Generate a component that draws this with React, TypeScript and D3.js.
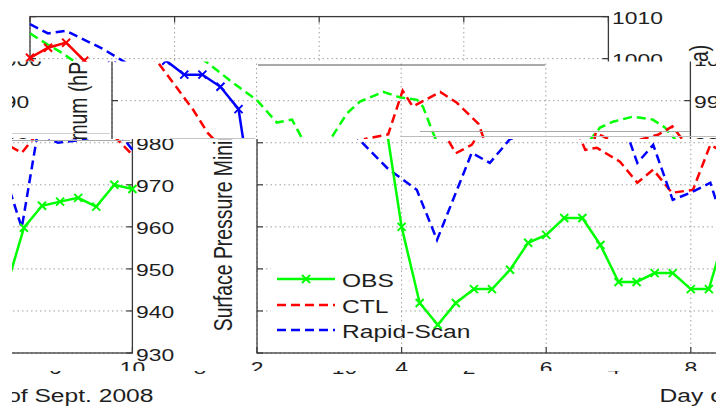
import React from 'react';
import * as d3 from 'd3';

// ---- data ----
const obsDays = [2, 2.25, 2.5, 2.75, 3, 3.25, 3.5, 3.75, 4, 4.25, 4.5, 4.75, 5, 5.25, 5.5, 5.75, 6, 6.25, 6.5, 6.75, 7, 7.25, 7.5, 7.75, 8, 8.25, 8.5, 8.75, 9, 9.25, 9.5, 9.75, 10];
const obsHPa = [1000.2, 1002.6, 1003.8, 999.5, 996.2, 996.2, 993.3, 988.0, 960.0, 941.9, 936.7, 941.9, 945.2, 945.2, 949.8, 956.2, 958.1, 962.1, 962.1, 955.7, 946.9, 946.9, 949.0, 949.0, 945.2, 945.2, 959.8, 965.0, 966.0, 966.9, 964.8, 970.0, 969.0];

const ctlDays = [2.0, 2.25, 2.5, 3.0, 3.3, 3.67, 4.0, 4.28, 4.49, 4.63, 4.75, 4.97, 5.08, 5.25, 5.43, 5.75, 5.98, 6.22, 6.3, 6.43, 6.54, 6.7, 7.02, 7.26, 7.48, 7.74, 8.03, 8.27, 8.47, 8.75, 8.93, 9.2, 9.48, 9.65, 9.7, 10.0];
const ctlHPa = [1008.2, 1006.0, 1006.6, 1002.4, 999.3, 994.3, 990.2, 984.8, 985.5, 981.0, 977.5, 979.5, 982.4, 987.0, 989.8, 992.1, 990.8, 990.2, 988.6, 982.8, 978.3, 978.8, 975.5, 970.5, 973.6, 968.1, 968.8, 979.5, 977.6, 983.6, 985.0, 986.2, 985.5, 983.6, 982.4, 977.1];

const rsDays = [2.0, 2.25, 2.44, 2.64, 2.9, 3.12, 3.33, 3.8, 4.21, 4.49, 4.97, 5.22, 5.5, 5.82, 6.02, 6.16, 6.54, 6.77, 7.07, 7.26, 7.48, 7.75, 8.02, 8.27, 8.47, 8.69, 8.97, 9.3, 9.55, 9.75, 10.0];
const rsHPa = [1006.0, 1003.3, 1001.4, 999.0, 993.0, 987.9, 982.2, 974.0, 968.8, 956.9, 977.6, 975.2, 980.9, 982.0, 992.4, 988.6, 992.1, 989.5, 984.5, 975.2, 979.5, 966.4, 968.3, 970.5, 959.8, 982.4, 980.0, 980.7, 981.9, 983.9, 978.3];

const xTicks = [2, 4, 6, 8, 10];
const yTicks = [930, 940, 950, 960, 970, 980, 990, 1000, 1010];
const legendLabels = ['OBS', 'CTL', 'Rapid-Scan'];
const xTitle = 'Day of Sept. 2008';
const yTitle = 'Surface Pressure Minimum (hPa)';

// ---- styling / layout ----
const SX = 1.33; // horizontal stretch of the picture
const FONT = "'Liberation Sans', Arial, Helvetica, sans-serif";
const TXT = '#1e1e1e';
const P = 703;      // roll period of the picture
const X0 = 12;      // blank strip at the left
const ORIG0 = 254;  // left end of the unrolled picture

type Colors = { obs: string; ctl: string; rs: string };

function Txt(props: { x: number; y: number; size: number; anchor?: string; rotate?: boolean; children: any }) {
  const { x, y, size, anchor = 'start', rotate = false, children } = props;
  const t = rotate
    ? `translate(${x},${y}) scale(${SX},1) rotate(-90)`
    : `translate(${x},${y}) scale(${SX},1)`;
  return (
    <text transform={t} fontSize={size} textAnchor={anchor as any} fontFamily={FONT} fill={TXT}>
      {children}
    </text>
  );
}

function Chart({ c }: { c: Colors }) {
  const x = d3.scaleLinear().domain([2, 10]).range([257, 835.4]);
  const y = d3.scaleLinear().domain([930, 1010]).range([353, 16.6]);
  const line = d3.line<[number, number]>().x((d) => x(d[0])).y((d) => y(d[1]));
  const obs: [number, number][] = obsDays.map((d, i) => [d, obsHPa[i]]);
  const ctl: [number, number][] = ctlDays.map((d, i) => [d, ctlHPa[i]]);
  const rs: [number, number][] = rsDays.map((d, i) => [d, rsHPa[i]]);
  const [x0, x1] = x.range();
  const [yb, yt] = y.range();
  const mk = (cx: number, cy: number, col: string, k: string) => (
    <path key={k} d={`M${cx - 4},${cy - 4}L${cx + 4},${cy + 4}M${cx - 4},${cy + 4}L${cx + 4},${cy - 4}`} stroke={col} strokeWidth={2} fill="none" />
  );
  const legCols = [c.obs, c.ctl, c.rs];
  const legY = [279, 305, 330];
  return (
    <g>
      {yTicks.map((v) => (
        <line key={'gy' + v} x1={x0} x2={x1} y1={y(v)} y2={y(v)} stroke="#a0a0a0" strokeWidth={1} strokeDasharray="1.5 3" />
      ))}
      {xTicks.map((v) => (
        <line key={'gx' + v} x1={x(v)} x2={x(v)} y1={yb} y2={yt} stroke="#a0a0a0" strokeWidth={1} strokeDasharray="1.5 3" />
      ))}
      <rect x={271} y={262} width={127} height={84} fill="#fff" />
      <rect x={x0} y={yt} width={x1 - x0} height={yb - yt} fill="none" stroke="#3a3a3a" strokeWidth={1.3} />
      {yTicks.map((v) => (
        <g key={'ty' + v}>
          <line x1={x0} x2={x0 + 6} y1={y(v)} y2={y(v)} stroke="#3a3a3a" strokeWidth={1.2} />
          <line x1={x1} x2={x1 - 6} y1={y(v)} y2={y(v)} stroke="#3a3a3a" strokeWidth={1.2} />
        </g>
      ))}
      {xTicks.map((v) => (
        <g key={'tx' + v}>
          <line x1={x(v)} x2={x(v)} y1={yb} y2={yb - 6} stroke="#3a3a3a" strokeWidth={1.2} />
          <line x1={x(v)} x2={x(v)} y1={yt} y2={yt + 6} stroke="#3a3a3a" strokeWidth={1.2} />
        </g>
      ))}
      <path d={line(ctl) || ''} stroke={c.ctl} strokeWidth={2.5} strokeDasharray="9 5" fill="none" />
      <path d={line(rs) || ''} stroke={c.rs} strokeWidth={2.5} strokeDasharray="9 5" fill="none" />
      <path d={line(obs) || ''} stroke={c.obs} strokeWidth={2.5} fill="none" />
      {obs.map((d, i) => mk(x(d[0]), y(d[1]), c.obs, 'm' + i))}
      {legendLabels.map((lab, i) => (
        <g key={'lg' + i}>
          <line x1={277} x2={335} y1={legY[i]} y2={legY[i]} stroke={legCols[i]} strokeWidth={2.5} strokeDasharray={i === 0 ? undefined : '9 5'} />
          {i === 0 ? mk(306, legY[i], legCols[i], 'lm') : null}
          <Txt x={342} y={legY[i] + 7.5} size={18.5}>{lab}</Txt>
        </g>
      ))}
      {yTicks.map((v) => (
        <Txt key={'ly' + v} x={839} y={y(v) + 7.5} size={17.2}>{v}</Txt>
      ))}
      {xTicks.map((v) => (
        <Txt key={'lx' + v} x={x(v)} y={374} size={17.2} anchor="middle">{v}</Txt>
      ))}
      <Txt x={546} y={402} size={18.5} anchor="middle">{xTitle}</Txt>
      <Txt x={935} y={188} size={19.4} anchor="middle" rotate>{yTitle}</Txt>
    </g>
  );
}

const bands = [
  { id: 'bTop', y0: 0, y1: 61.5, r: 15, c: { obs: '#ff0000', ctl: '#0000ff', rs: '#00ff00' } },
  { id: 'bMid', y0: 61.5, y1: 139, r: 97, c: { obs: '#0000ff', ctl: '#00ff00', rs: '#ff0000' } },
  { id: 'bLow', y0: 139, y1: 371, r: 242, c: { obs: '#00ff00', ctl: '#ff0000', rs: '#0000ff' } },
  { id: 'bBot', y0: 371, y1: 408, r: 454, c: { obs: '#00ff00', ctl: '#ff0000', rs: '#0000ff' } },
];

export default function App() {
  return (
    <svg width={716} height={408} style={{ position: 'absolute', left: 0, top: 0, display: 'block', background: '#fff' }}>
      <defs>
        {bands.map((b) => (
          <clipPath id={b.id} key={b.id}>
            <rect x={X0} y={b.y0} width={716 - X0} height={b.y1 - b.y0} />
          </clipPath>
        ))}
      </defs>
      <rect x={0} y={0} width={716} height={408} fill="#fff" />
      {bands.map((b) => {
        const tx = X0 + b.r - ORIG0;
        return (
          <g key={b.id} clipPath={`url(#${b.id})`}>
            <g transform={`translate(${tx},0)`}><Chart c={b.c} /></g>
            <g transform={`translate(${tx - P},0)`}><Chart c={b.c} /></g>
          </g>
        );
      })}
      {/* seams between the rolled strips */}
      <g stroke="#a8a8a8" strokeWidth={1} fill="none">
        <line x1={12} x2={130} y1={140.5} y2={140.5} />
        <line x1={12} x2={110} y1={133.5} y2={133.5} stroke="#cfcfcf" />
        <line x1={170} x2={255} y1={138.5} y2={138.5} stroke="#c4c4c4" />
        <line x1={420} x2={690} y1={131.5} y2={131.5} />
        <line x1={400} x2={716} y1={136.5} y2={136.5} stroke="#bdbdbd" />
        <line x1={258} x2={545} y1={65} y2={65} stroke="#555" />
      </g>
    </svg>
  );
}
